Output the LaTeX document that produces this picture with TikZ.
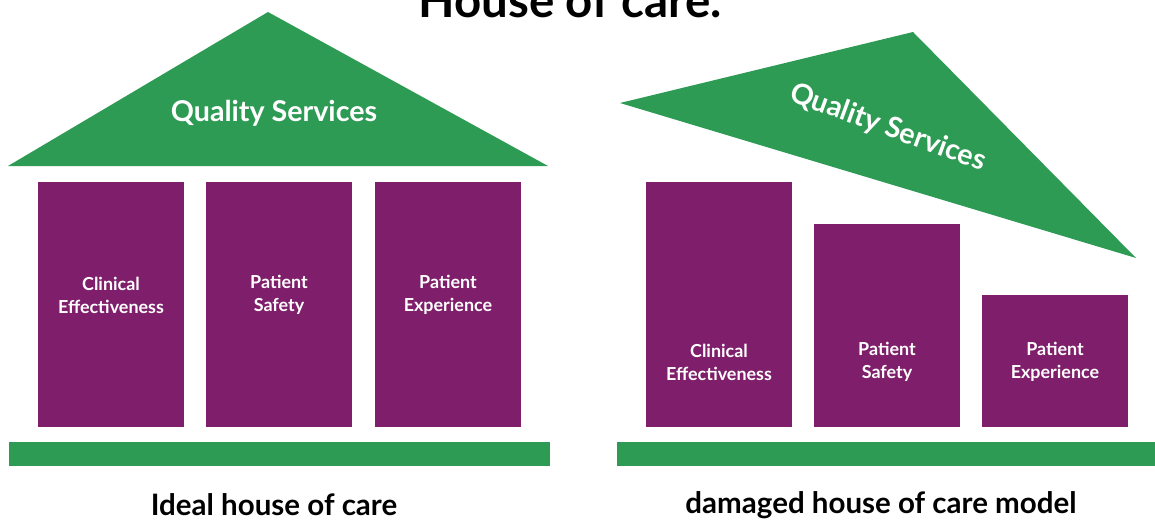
\documentclass[tikz,border=0pt]{standalone}
\usepackage{fontspec}
\setmainfont{Lato}
\usetikzlibrary{positioning}
\definecolor{hcgreen}{RGB}{46,155,84}
\definecolor{hcpurple}{RGB}{127,31,107}
\tikzset{
  roof/.style={fill=hcgreen},
  floorbar/.style={fill=hcgreen},
  pillarbox/.style={fill=hcpurple},
  pillartext/.style={text=white,align=center,font=\bfseries\fontsize{10.2}{13}\selectfont},
  rooftext/.style={text=white,font=\bfseries\fontsize{16.3}{19}\selectfont},
  housecaption/.style={font=\bfseries\fontsize{16.8}{19}\selectfont},
}
% pillar: name, left x, top y, text y, label
\newcommand{\hcpillar}[5]{%
  \fill[pillarbox] (#2,#3) rectangle ({#2+146},427);
  \node[pillartext] (#1) at ({#2+73},#4) {#5};}

\begin{document}
\begin{tikzpicture}[x=0.02cm,y=-0.02cm]
  \useasboundingbox (0,0) rectangle (1155,521);
  \node[font=\bfseries\fontsize{27}{31}\selectfont,anchor=base] (title) at (570,17) {House of care.};

  % ideal house
  \fill[roof] (8,166) -- (268,12) -- (548,166) -- cycle;
  \node[rooftext] (qsa) at (274,113) {Quality Services};
  \hcpillar{ceA}{38}{182}{295}{Clinical\\Effectiveness}
  \hcpillar{psA}{206}{182}{295}{Patient\\Safety}
  \hcpillar{peA}{375}{182}{295}{Patient\\Experience}
  \fill[floorbar] (9,442) rectangle (550,466);
  \node[housecaption] (capA) at (274,505) {Ideal house of care};

  % damaged house
  \fill[roof] (620,103) -- (913,32) -- (1136,258) -- cycle;
  \node[rooftext,rotate=-20] (qsb) at (888,128) {Quality Services};
  \hcpillar{ceB}{646}{182}{362}{Clinical\\Effectiveness}
  \hcpillar{psB}{814}{224}{362}{Patient\\Safety}
  \hcpillar{peB}{982}{295}{362}{Patient\\Experience}
  \fill[floorbar] (617,442) rectangle (1155,466);
  \node[housecaption] (capB) at (881,505) {damaged house of care model};
\end{tikzpicture}
\end{document}
